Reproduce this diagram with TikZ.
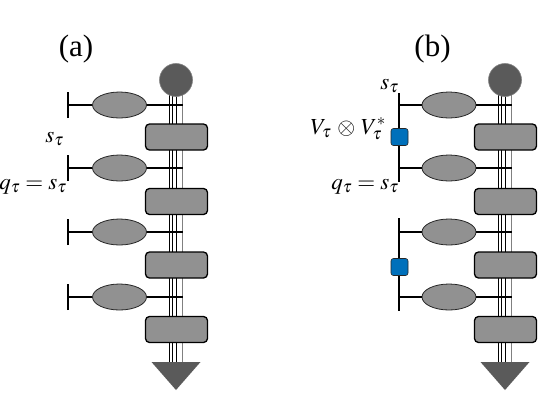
\documentclass[tikz,border=0pt]{standalone}
\usepackage{mathptmx}
\usepackage[no-math]{fontspec}
\setmainfont{Liberation Serif}
\usetikzlibrary{shapes.geometric}
\definecolor{ellgray}{HTML}{919191}
\definecolor{dkgray}{HTML}{5A5A5A}
\definecolor{qblue}{HTML}{0070BB}
\tikzset{
  ell/.style={ellipse, draw=black!85, line width=0.8pt, fill=ellgray, minimum width=54pt, minimum height=26pt, inner sep=0pt},
  gbox/.style={rectangle, rounded corners=4pt, draw=black, line width=1.3pt, fill=ellgray, minimum width=62pt, minimum height=26pt, inner sep=0pt},
  topc/.style={circle, fill=dkgray, draw=gray, line width=0.6pt, minimum size=33pt, inner sep=0pt},
  leg/.style={line width=1.3pt, black},
  bond/.style={line width=0.6pt, black},
  gbond/.style={line width=1pt, gray},
  sq/.style={rectangle, rounded corners=2.5pt, draw=black!85, line width=0.6pt, fill=qblue, minimum size=17pt, inner sep=0pt},
  lab/.style={font=\fontsize{23}{28}\selectfont, inner sep=0pt},
  ttl/.style={font=\fontsize{31}{36}\selectfont, inner sep=0pt},
}
\begin{document}
\begin{tikzpicture}[x=1pt,y=-1pt]
\useasboundingbox (0,0) rectangle (538,416);
\foreach \p/\sx/\ex/\tx in {a/176/119.5/68, b/505/449/399} {
  \coordinate (\p-top) at (\sx,80);
  \coordinate (\p-bot) at (\sx,362);
  \foreach \dx in {-6.5,-3.3,0}
    \draw[bond] ([xshift=\dx pt]\p-top) -- ([xshift=\dx pt]\p-bot);
  \draw[gbond] ([xshift=6pt]\p-top) -- ([xshift=6pt]\p-bot);
  \foreach \i/\y in {1/105,2/168,3/232,4/297} {
    \node[ell] (\p-e\i) at (\ex,\y) {};
    \coordinate (\p-t\i) at (\tx,\y);
    \coordinate (\p-s\i) at (\sx+7,\y);
    \draw[leg] (\p-t\i) -- (\p-e\i.west);
    \draw[leg] (\p-e\i.east) -- (\p-s\i);
  }
  \foreach \i/\y in {1/137,2/201.5,3/265,4/329.5}
    \node[gbox] (\p-b\i) at (\sx+0.5,\y) {};
  \node[topc] (\p-c) at (\sx,80) {};
  \coordinate (\p-tl) at (\sx-24.5,362);
  \coordinate (\p-tr) at (\sx+24.5,362);
  \coordinate (\p-ta) at (\sx,390);
  \fill[dkgray] (\p-tl) -- (\p-tr) -- (\p-ta) -- cycle;
}
% ticks in (a)
\foreach \i in {1,2,3,4}
  \draw[leg] ([yshift=-13pt]a-t\i) -- ([yshift=13pt]a-t\i);
% legs in (b)
\draw[leg] ([yshift=12pt]b-t1) -- ([yshift=-14pt]b-t2);
\draw[leg] ([yshift=14pt]b-t3) -- ([yshift=-14pt]b-t4);
\node[sq] (b-q1) at (399.5,137) {};
\node[sq] (b-q2) at (399.5,267) {};
% labels
\node[ttl] (ta) at (76,49) {(a)};
\node[ttl] (tb) at (432.5,49) {(b)};
\node[lab, anchor=base east] (a-l1) at (64,142) {$s_\tau$};
\node[lab, anchor=base east] (a-l2) at (67,189) {$q_\tau = s_\tau$};
\node[lab, anchor=base east] (b-l1) at (399,89) {$s_\tau$};
\node[lab, anchor=base east] (b-l2) at (386,134) {$V_\tau \,\otimes\, V_\tau^*$};
\node[lab, anchor=base east] (b-l3) at (399,189) {$q_\tau = s_\tau$};
\end{tikzpicture}
\end{document}
